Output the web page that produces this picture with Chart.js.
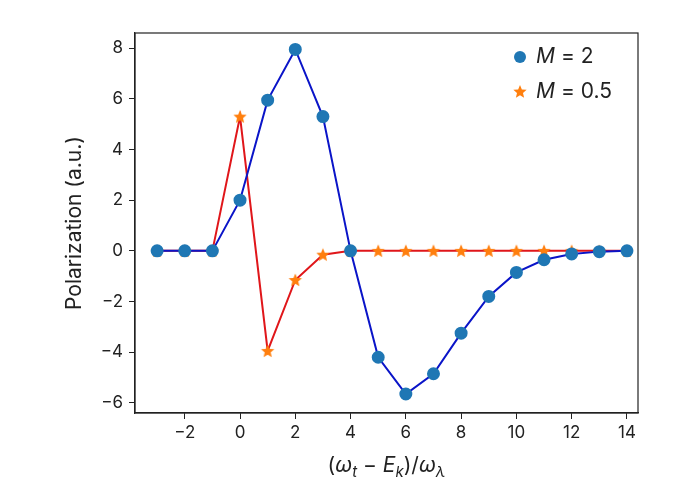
<!DOCTYPE html>
<html>
<head>
<meta charset="utf-8">
<script src="https://cdn.jsdelivr.net/npm/chart.js@4"></script>
<style>
  body { margin: 0; background: #fff; }
  #wrap { width: 680px; height: 495px; }
</style>
</head>
<body>
<div id="wrap"><canvas id="chart"></canvas></div>
<script>
// === Data ===
const xValues = [-3, -2, -1, 0, 1, 2, 3, 4, 5, 6, 7, 8, 9, 10, 11, 12, 13, 14];
const m2Values = [0, 0, 0, 2, 5.95, 7.95, 5.3, 0, -4.2, -5.65, -4.85, -3.25, -1.8, -0.85, -0.35, -0.12, -0.03, 0];
const m05Values = [0, 0, 0, 5.3, -3.95, -1.15, -0.15, 0, 0, 0, 0, 0, 0, 0, 0, 0, 0, 0];
const yTicks = [-6, -4, -2, 0, 2, 4, 6, 8];
const xTicks = [-2, 0, 2, 4, 6, 8, 10, 12, 14];

const FONT = 'Inter, "DejaVu Sans", sans-serif';
const minus = v => String(v).replace('-', '\u2212');
const pts = vals => xValues.map((x, i) => ({ x, y: vals[i] }));

function drawStar(ctx, cx, cy, r, color) {
    ctx.beginPath();
    for (let i = 0; i < 10; i++) {
        const rr = i % 2 ? r * 0.45 : r;
        const ang = -Math.PI / 2 + i * Math.PI / 5;
        ctx.lineTo(cx + rr * Math.cos(ang), cy + rr * Math.sin(ang));
    }
    ctx.closePath();
    ctx.fillStyle = color;
    ctx.fill();
}

// filled star marker as an image
const starImg = document.createElement('canvas');
starImg.width = 16; starImg.height = 16;
drawStar(starImg.getContext('2d'), 8, 8.5, 7, '#ff7f0e');

// frame, legend + x title drawn by hand (italic M, subscripts)
const extras = {
    id: 'extras',
    afterDraw(chart) {
        const ctx = chart.ctx;
        const a = chart.chartArea;
        ctx.save();
        ctx.strokeStyle = '#222';
        ctx.lineWidth = 1.2;
        ctx.strokeRect(a.left, a.top, a.right - a.left, a.bottom - a.top);
        ctx.textBaseline = 'middle';
        // legend
        const lx = a.right - 118;
        ctx.beginPath();
        ctx.arc(lx, 57, 6, 0, Math.PI * 2);
        ctx.fillStyle = '#1f77b4';
        ctx.fill();
        drawStar(ctx, lx, 92, 7, '#ff7f0e');
        ctx.fillStyle = '#222';
        [['= 2', 57], ['= 0.5', 92]].forEach(([t, y]) => {
            ctx.font = 'italic 21px ' + FONT;
            ctx.fillText('M', lx + 16, y);
            const w = ctx.measureText('M').width;
            ctx.font = '21px ' + FONT;
            ctx.fillText(' ' + t, lx + 16 + w, y);
        });
        // x title
        const parts = [
            ['(', '21px', 0], ['ω', 'italic 21px', 0], ['t', 'italic 15px', 6],
            [' \u2212 ', '21px', 0], ['E', 'italic 21px', 0], ['k', 'italic 15px', 6],
            [')/', '21px', 0], ['ω', 'italic 21px', 0], ['λ', 'italic 15px', 6]
        ];
        let total = 0;
        parts.forEach(p => { ctx.font = p[1] + ' ' + FONT; total += ctx.measureText(p[0]).width; });
        let x = (a.left + a.right) / 2 - total / 2;
        parts.forEach(p => {
            ctx.font = p[1] + ' ' + FONT;
            ctx.fillText(p[0], x, 466 + p[2]);
            x += ctx.measureText(p[0]).width;
        });
        ctx.restore();
    }
};

new Chart(document.getElementById('chart'), {
    type: 'line',
    data: {
        datasets: [{
            label: 'M = 2',
            data: pts(m2Values),
            borderColor: '#0a14c8',
            borderWidth: 2,
            pointBackgroundColor: '#1f77b4',
            pointBorderColor: '#1f77b4',
            pointRadius: 5.5,
            tension: 0
        }, {
            label: 'M = 0.5',
            data: pts(m05Values),
            borderColor: '#e0161a',
            borderWidth: 2,
            pointStyle: starImg,
            pointRadius: 6,
            tension: 0
        }]
    },
    options: {
        responsive: true,
        maintainAspectRatio: false,
        animation: false,
        layout: { padding: { top: 33, right: 42, left: 58 } },
        plugins: { legend: { display: false }, tooltip: { enabled: false } },
        scales: {
            x: {
                type: 'linear', min: -3.8, max: 14.4,
                afterFit: s => { s.height = 82; },
                afterBuildTicks: s => { s.ticks = xTicks.map(v => ({ value: v })); },
                grid: { drawOnChartArea: false, tickLength: 6, color: '#222', tickWidth: 1 },
                border: { color: '#222', width: 1.2 },
                ticks: { color: '#222', font: { size: 17, family: FONT }, callback: minus, padding: 4, maxRotation: 0 }
            },
            y: {
                min: -6.4, max: 8.6,
                afterFit: s => { s.width = 77; },
                afterBuildTicks: s => { s.ticks = yTicks.map(v => ({ value: v })); },
                grid: { drawOnChartArea: false, tickLength: 6, color: '#222', tickWidth: 1 },
                border: { color: '#222', width: 1.2 },
                ticks: { color: '#222', font: { size: 17, family: FONT }, callback: minus, padding: 6 },
                title: { display: true, text: 'Polarization (a.u.)', color: '#222', font: { size: 21, family: FONT }, padding: { bottom: 8 } }
            }
        }
    },
    plugins: [extras]
});
</script>
</body>
</html>
